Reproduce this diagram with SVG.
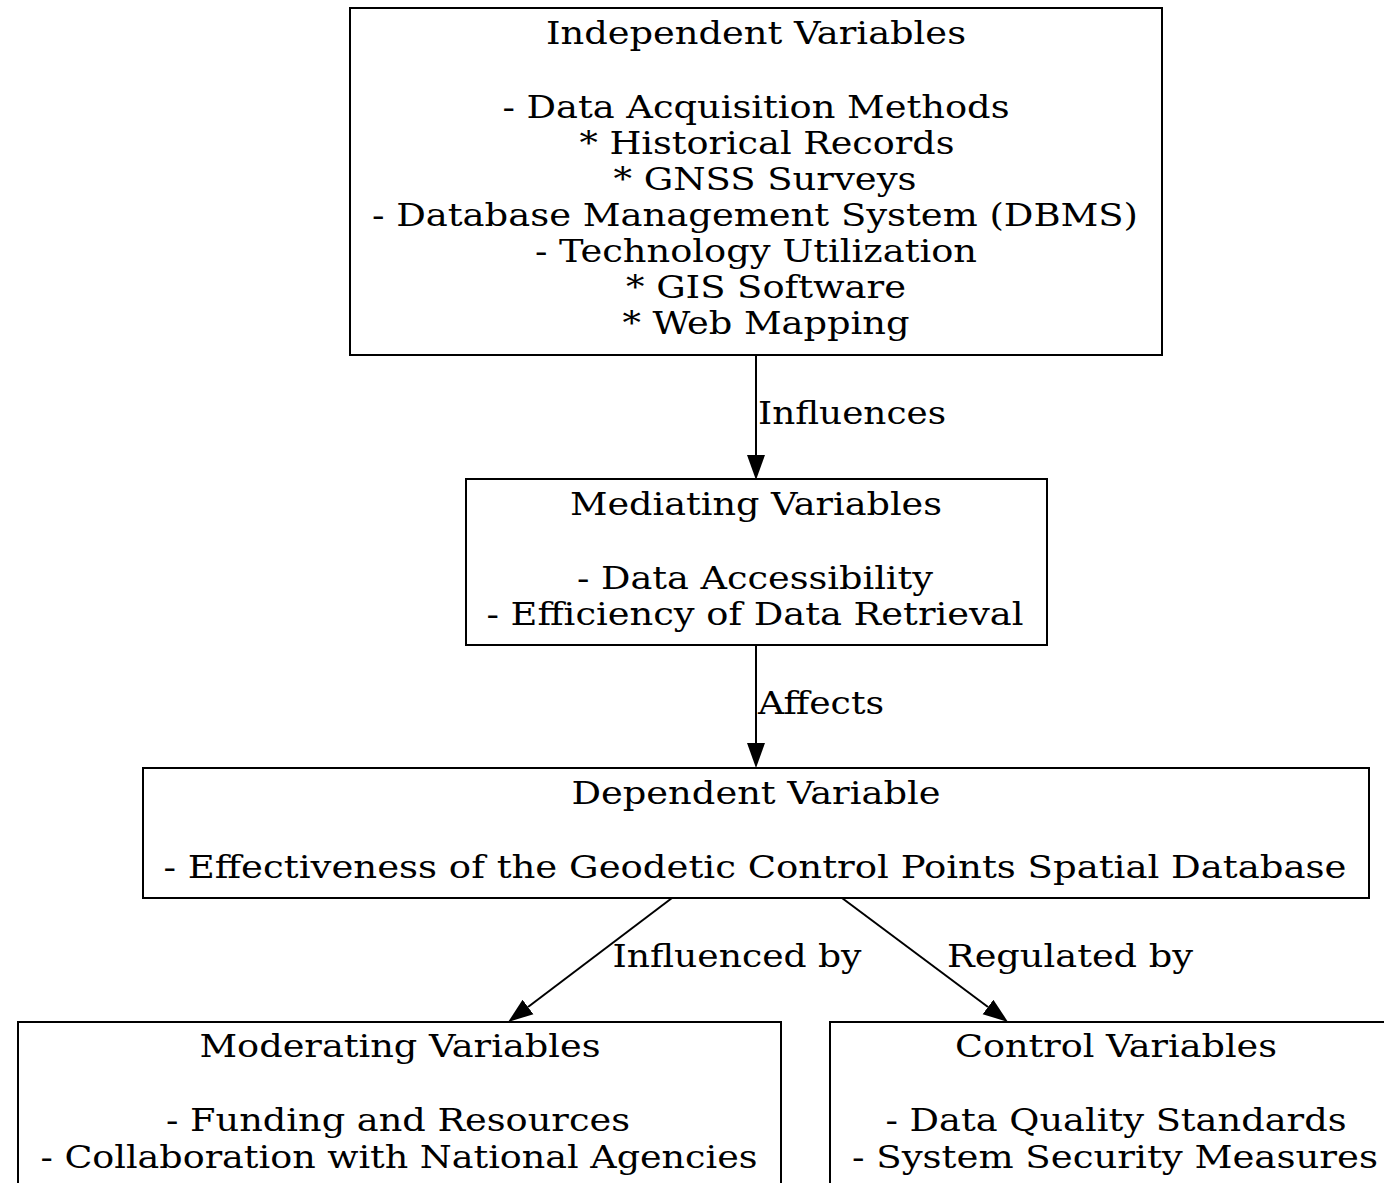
<svg xmlns="http://www.w3.org/2000/svg" width="1384" height="1183" viewBox="0 0 1384 1183">
<style>
  .box { fill: #ffffff; stroke: #000000; stroke-width: 2; }
  .t { font-family: "DejaVu Serif Condensed", "DejaVu Serif", "Liberation Serif", serif; font-size: 32px; fill: #000000; text-anchor: middle; }
  .edge { stroke: #000000; stroke-width: 2; fill: none; }
</style>
<defs>
  <marker id="arrow" markerUnits="userSpaceOnUse" markerWidth="26" markerHeight="20" refX="0" refY="9" orient="auto" viewBox="0 0 26 18">
    <path d="M0,0 L25,9 L0,18 Z" fill="#000000"/>
  </marker>
</defs>
<rect width="1384" height="1183" fill="#ffffff"/>

<g id="independent">
  <rect class="box" x="350" y="8" width="812" height="347"/>
  <text class="t" x="756" y="44" textLength="420" lengthAdjust="spacingAndGlyphs">Independent Variables</text>
  <text class="t" x="756" y="118" textLength="507" lengthAdjust="spacingAndGlyphs">- Data Acquisition Methods</text>
  <text class="t" x="767" y="154" textLength="375" lengthAdjust="spacingAndGlyphs">* Historical Records</text>
  <text class="t" x="765" y="190" textLength="303" lengthAdjust="spacingAndGlyphs">* GNSS Surveys</text>
  <text class="t" x="755" y="226" textLength="766" lengthAdjust="spacingAndGlyphs">- Database Management System (DBMS)</text>
  <text class="t" x="756" y="262" textLength="442" lengthAdjust="spacingAndGlyphs">- Technology Utilization</text>
  <text class="t" x="766" y="298" textLength="280" lengthAdjust="spacingAndGlyphs">* GIS Software</text>
  <text class="t" x="766" y="334" textLength="287" lengthAdjust="spacingAndGlyphs">* Web Mapping</text>
</g>

<g id="mediating">
  <rect class="box" x="466" y="479" width="581" height="166"/>
  <text class="t" x="756" y="515" textLength="372" lengthAdjust="spacingAndGlyphs">Mediating Variables</text>
  <text class="t" x="755" y="589" textLength="356" lengthAdjust="spacingAndGlyphs">- Data Accessibility</text>
  <text class="t" x="755" y="625" textLength="537" lengthAdjust="spacingAndGlyphs">- Efficiency of Data Retrieval</text>
</g>

<g id="dependent">
  <rect class="box" x="143" y="768" width="1226" height="130"/>
  <text class="t" x="756" y="804" textLength="369" lengthAdjust="spacingAndGlyphs">Dependent Variable</text>
  <text class="t" x="755" y="878" textLength="1183" lengthAdjust="spacingAndGlyphs">- Effectiveness of the Geodetic Control Points Spatial Database</text>
</g>

<g id="moderating">
  <rect class="box" x="18" y="1022" width="763" height="175"/>
  <text class="t" x="400" y="1057" textLength="401" lengthAdjust="spacingAndGlyphs">Moderating Variables</text>
  <text class="t" x="398" y="1131" textLength="464" lengthAdjust="spacingAndGlyphs">- Funding and Resources</text>
  <text class="t" x="399" y="1168" textLength="717" lengthAdjust="spacingAndGlyphs">- Collaboration with National Agencies</text>
</g>

<g id="control">
  <rect class="box" x="830" y="1022" width="570" height="175"/>
  <text class="t" x="1116" y="1057" textLength="322" lengthAdjust="spacingAndGlyphs">Control Variables</text>
  <text class="t" x="1116" y="1131" textLength="461" lengthAdjust="spacingAndGlyphs">- Data Quality Standards</text>
  <text class="t" x="1115" y="1168" textLength="526" lengthAdjust="spacingAndGlyphs">- System Security Measures</text>
</g>

<g id="connectors">
  <line class="edge" x1="756" y1="355" x2="756" y2="455" marker-end="url(#arrow)"/>
  <text class="t" x="852" y="424" textLength="188" lengthAdjust="spacingAndGlyphs">Influences</text>
  <line class="edge" x1="756" y1="645" x2="756" y2="743" marker-end="url(#arrow)"/>
  <text class="t" x="821" y="714" textLength="126" lengthAdjust="spacingAndGlyphs">Affects</text>
  <line class="edge" x1="672" y1="898" x2="528" y2="1007" marker-end="url(#arrow)"/>
  <text class="t" x="737" y="967" textLength="249" lengthAdjust="spacingAndGlyphs">Influenced by</text>
  <line class="edge" x1="842" y1="898" x2="988" y2="1007" marker-end="url(#arrow)"/>
  <text class="t" x="1070" y="967" textLength="246" lengthAdjust="spacingAndGlyphs">Regulated by</text>
</g>
</svg>
